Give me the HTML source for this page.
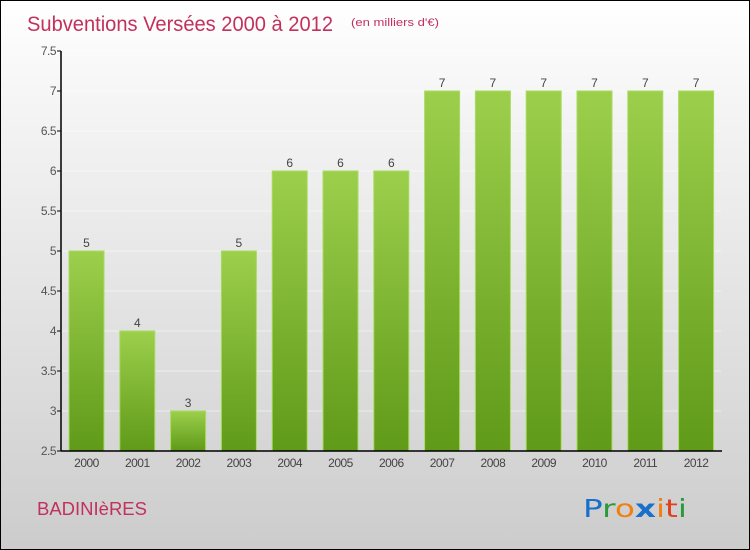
<!DOCTYPE html>
<html><head><meta charset="utf-8"><style>
body{margin:0;}
#wrap{width:748px;height:548px;border:1px solid #000;background:linear-gradient(#fff,#f4f4f4 20%,#dcdcdc 70%,#ccc);position:relative;overflow:hidden;font-family:"Liberation Sans",sans-serif;}
</style></head><body>
<div id="wrap">
<svg width="748" height="548" id="svg">
<defs><linearGradient id="g" x1="0" y1="0" x2="0" y2="1"><stop offset="0" stop-color="#9ccf4c"/><stop offset="1" stop-color="#5f9a18"/></linearGradient></defs>
<text x="26" y="30" font-size="21" textLength="306" lengthAdjust="spacingAndGlyphs" fill="#c2305e">Subventions Versées 2000 à 2012</text>
<text x="350" y="25" font-size="11" textLength="88" lengthAdjust="spacingAndGlyphs" fill="#c2305e">(en milliers d'€)</text>
<text x="36" y="514" font-size="18" textLength="110" lengthAdjust="spacingAndGlyphs" fill="#c2305e">BADINIèRES</text>
<g font-size="25" font-family="'DejaVu Sans',sans-serif">
<text x="582" y="516" textLength="104" lengthAdjust="spacingAndGlyphs"><tspan fill="#1a6fc9">P</tspan><tspan fill="#2a9a3a">r</tspan><tspan fill="#f08010">o</tspan><tspan fill="#1a6fc9" font-weight="bold">x</tspan><tspan fill="#f08010">i</tspan><tspan fill="#e04020">t</tspan><tspan fill="#2a9a3a">i</tspan></text></g>
<g id="plot"></g>
</svg>
</div>
<script>
const categories=["2000","2001","2002","2003","2004","2005","2006","2007","2008","2009","2010","2011","2012"];
const values=[5,4,3,5,6,6,6,7,7,7,7,7,7];
const ticks=[2.5,3,3.5,4,4.5,5,5.5,6,6.5,7,7.5];
const NS="http://www.w3.org/2000/svg";
const g=document.getElementById('plot');
const y=v=>450-(v-2.5)*80;
const x=i=>68+i*50.8;
function mk(t,a,txt){const e=document.createElementNS(NS,t);for(const k in a)e.setAttribute(k,a[k]);if(txt!==undefined)e.textContent=txt;g.appendChild(e);return e;}
ticks.forEach(t=>{
 if(t>2.5){const l=mk('line',{x1:60,x2:720,y1:y(t),y2:y(t),stroke:'#fff','stroke-width':1,opacity:0.5});
 
 }
 const k=mk('line',{x1:56,x2:60,y1:y(t),y2:y(t),stroke:'#000'});
 
 
 const tx=mk('text',{x:55,y:y(t)+4,'text-anchor':'end','font-size':12,fill:'#555','letter-spacing':'-0.5'},String(t));
 
 
});
values.forEach((v,i)=>{
 const r=mk('rect',{x:x(i),y:y(v),width:35,height:450-y(v),fill:'url(#g)',stroke:'#a8dc60','stroke-width':1});
 
 
 const t=mk('text',{x:x(i)+17.5,y:y(v)-4,'text-anchor':'middle','font-size':12,fill:'#444'},String(v));
 
 
 const c=mk('text',{x:x(i)+17.5,y:466,'text-anchor':'middle','font-size':12,fill:'#444','letter-spacing':'-0.5'},categories[i]);
 
 
});
const ya=mk('line',{x1:60,x2:60,y1:50,y2:450,stroke:'#000','stroke-width':1.5});


const xa=mk('line',{x1:60,x2:721,y1:450,y2:450,stroke:'#000','stroke-width':1.5});


</script>
</body></html>
